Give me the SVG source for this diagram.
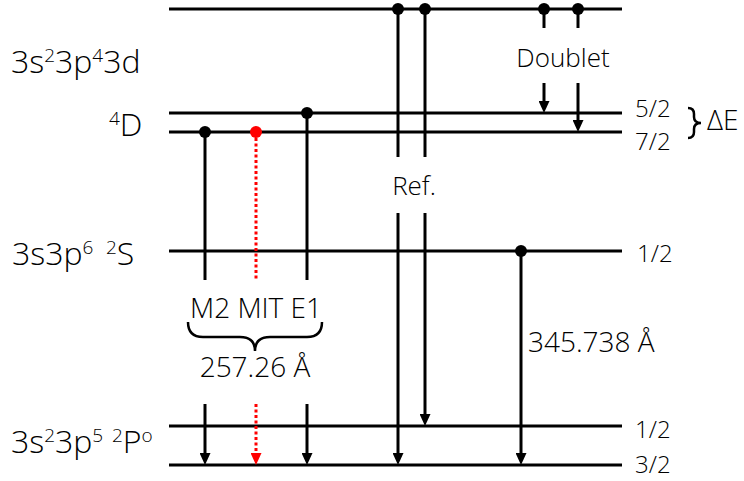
<svg xmlns="http://www.w3.org/2000/svg" width="744" height="481" viewBox="0 0 744 481">
<style>
  .lvl { stroke:#000; stroke-width:3; fill:none; }
  .tr { stroke:#000; stroke-width:3; fill:none; }
  .red { stroke:#ff0000; stroke-width:3; fill:none; stroke-dasharray:3 2.5; }
  .brace { stroke:#000; stroke-width:2.5; fill:none; }
  text { font-family:"Open Sans","Noto Sans","DejaVu Sans",sans-serif; font-weight:350; fill:#000; }
  .big { font-size:32px; }
  .sup { font-size:19px; }
  .mid { font-size:28px; }
  .sm { font-size:26px; }
  .j { font-size:24px; }
</style>
<defs>
  <marker id="ah" viewBox="0 0 12 11" markerWidth="12" markerHeight="11" markerUnits="userSpaceOnUse" refX="4" refY="5.5" orient="auto">
    <path d="M0,0 L12,5.5 L0,11 z" fill="#000"/>
  </marker>
  <marker id="ahr" viewBox="0 0 12 11" markerWidth="12" markerHeight="11" markerUnits="userSpaceOnUse" refX="4" refY="5.5" orient="auto">
    <path d="M0,0 L12,5.5 L0,11 z" fill="#ff0000"/>
  </marker>
</defs>

<g id="levels">
  <g id="level-3d-top"><line class="lvl" x1="169" y1="9" x2="622" y2="9"/></g>
  <g id="level-4D52"><line class="lvl" x1="169" y1="113" x2="622" y2="113"/></g>
  <g id="level-4D72"><line class="lvl" x1="169" y1="132" x2="622" y2="132"/></g>
  <g id="level-2S"><line class="lvl" x1="169" y1="251" x2="622" y2="251"/></g>
  <g id="level-2P12"><line class="lvl" x1="169" y1="426" x2="622" y2="426"/></g>
  <g id="level-2P32"><line class="lvl" x1="169" y1="465" x2="622" y2="465"/></g>
</g>

<g id="connectors">
  <!-- M2 -->
  <line class="tr" x1="205" y1="132" x2="205" y2="280"/>
  <line class="tr" x1="205" y1="404" x2="205" y2="457" marker-end="url(#ah)"/>
  <!-- MIT -->
  <line class="red" x1="256" y1="138" x2="256" y2="280"/>
  <line class="red" x1="256" y1="404" x2="256" y2="457" marker-end="url(#ahr)"/>
  <!-- E1 -->
  <line class="tr" x1="307" y1="113" x2="307" y2="280"/>
  <line class="tr" x1="307" y1="404" x2="307" y2="457" marker-end="url(#ah)"/>
  <!-- Ref -->
  <line class="tr" x1="398" y1="9" x2="398" y2="157"/>
  <line class="tr" x1="398" y1="213" x2="398" y2="457" marker-end="url(#ah)"/>
  <line class="tr" x1="425" y1="9" x2="425" y2="157"/>
  <line class="tr" x1="425" y1="213" x2="425" y2="418" marker-end="url(#ah)"/>
  <!-- Doublet -->
  <line class="tr" x1="544" y1="9" x2="544" y2="28"/>
  <line class="tr" x1="578" y1="9" x2="578" y2="28"/>
  <line class="tr" x1="544" y1="83" x2="544" y2="105" marker-end="url(#ah)"/>
  <line class="tr" x1="578" y1="83" x2="578" y2="124" marker-end="url(#ah)"/>
  <!-- 345.738 -->
  <line class="tr" x1="521" y1="251" x2="521" y2="457" marker-end="url(#ah)"/>
</g>

<g id="dots">
  <circle cx="205" cy="132" r="6" fill="#000"/>
  <circle cx="256" cy="132" r="6" fill="#ff0000"/>
  <circle cx="307" cy="113" r="6" fill="#000"/>
  <circle cx="398" cy="9" r="6" fill="#000"/>
  <circle cx="425" cy="9" r="6" fill="#000"/>
  <circle cx="544" cy="9" r="6" fill="#000"/>
  <circle cx="578" cy="9" r="6" fill="#000"/>
  <circle cx="521" cy="251" r="6" fill="#000"/>
</g>

<g id="braces">
  <path class="brace" d="M188,322 Q188,337 203,337 L240,337 Q255,337 255,351 Q255,337 270,337 L307,337 Q322,337 322,322"/>
  <path class="brace" d="M688,108 Q694,108 694,114 L694,117 Q694,123 701,123 Q694,123 694,129 L694,132 Q694,138 688,138"/>
</g>

<g id="labels-left">
  <text class="big" x="11" y="73">3s<tspan class="sup" dy="-11">2</tspan><tspan dy="11">3p</tspan><tspan class="sup" dy="-11">4</tspan><tspan dy="11">3d</tspan></text>
  <text class="big" x="109" y="136"><tspan class="sup" dy="-11">4</tspan><tspan dy="11">D</tspan></text>
  <text class="big" x="12" y="265">3s3p<tspan class="sup" dy="-11">6</tspan><tspan class="sup" x="106">2</tspan><tspan dy="11">S</tspan></text>
  <text class="big" x="11" y="453">3s<tspan class="sup" dy="-11">2</tspan><tspan dy="11">3p</tspan><tspan class="sup" dy="-11">5</tspan><tspan class="sup" x="112">2</tspan><tspan dy="11">P</tspan><tspan class="sup" dy="-11">o</tspan></text>
</g>

<g id="labels-right">
  <text class="j" x="635" y="117">5/2</text>
  <text class="j" x="635" y="150">7/2</text>
  <text class="mid" x="707" y="130">ΔE</text>
  <text class="j" x="637" y="262">1/2</text>
  <text class="j" x="635" y="438">1/2</text>
  <text class="j" x="635" y="473">3/2</text>
</g>

<g id="labels-mid">
  <text class="sm" x="563" y="67" text-anchor="middle">Doublet</text>
  <text class="sm" x="414" y="195" text-anchor="middle">Ref.</text>
  <text class="mid" x="256" y="318" text-anchor="middle">M2 MIT E1</text>
  <text class="mid" x="255" y="377" text-anchor="middle">257.26 Å</text>
  <text class="mid" x="528" y="352">345.738 Å</text>
</g>
</svg>
